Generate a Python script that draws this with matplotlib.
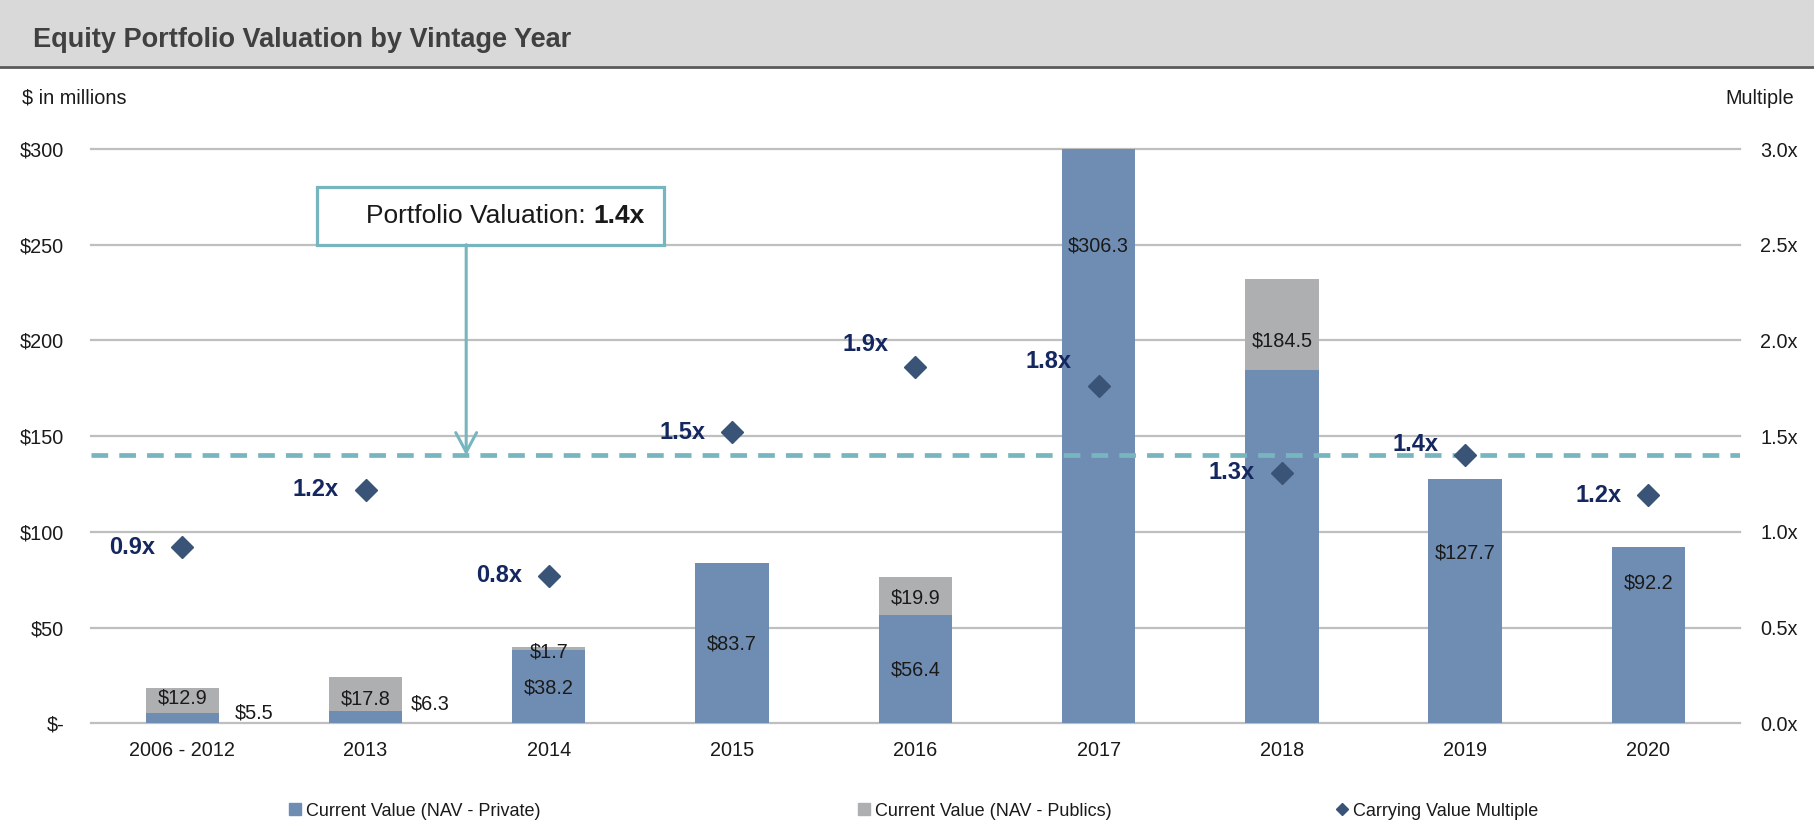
import numpy as np
import matplotlib
matplotlib.use('Agg')
import matplotlib.pyplot as plt
from matplotlib.patches import Rectangle
from matplotlib.lines import Line2D

plt.rcParams['font.family'] = ['Liberation Sans', 'DejaVu Sans']
plt.rcParams['lines.scale_dashes'] = False

# data
categories = ['2006 - 2012', '2013', '2014', '2015', '2016', '2017', '2018', '2019', '2020']
nav_private = [5.5, 6.3, 38.2, 83.7, 56.4, 306.3, 184.5, 127.7, 92.2]
nav_publics = [12.9, 17.8, 1.7, 0.0, 19.9, 0.0, 47.6, 0.0, 0.0]
multiple = [0.92, 1.22, 0.77, 1.52, 1.86, 1.76, 1.31, 1.40, 1.19]
portfolio_multiple = 1.4

# where the data labels sit (the original places them by hand)
priv_lbl_x = [0.39, 0.35, 0, 0, 0, 0, 0, 0, 0]
priv_lbl_y = [5.2, 10.1, 18.3, 41.5, 27.8, 249.1, 199.5, 88.9, 73.2]
pub_lbl_y = [13.4, 12.5, 37.4, None, 65.3, None, None, None, None]
mult_lbl_dy = [0, 0, 0, 0, 16.5, 18, 0, 8, 0]   # points above the diamond

blue = '#6F8DB3'
grey = '#AEAFB1'
navy = '#15275F'
diamond = '#3A5478'
teal = '#77B6BF'
gridc = '#BFBFBF'
txt = '#1A1A1A'
fs = 14.3

W, H = 1815, 823
fig = plt.figure(figsize=(W / 100, H / 100), dpi=100)

# title band
fig.patches.append(Rectangle((0, 1 - 66 / H), 1, 66 / H, transform=fig.transFigure,
                             facecolor='#D9D9D9', edgecolor='none', zorder=0))
fig.lines.append(Line2D([0, 1], [1 - 66.5 / H] * 2, transform=fig.transFigure,
                        color='#595959', lw=2))
fig.text(33 / W, 1 - 40 / H, 'Equity Portfolio Valuation by Vintage Year', fontsize=19.5,
         fontweight='bold', color='#404040', va='center', ha='left')
fig.text(22 / W, 1 - 98 / H, '$ in millions', fontsize=fs, color=txt, va='center', ha='left')
fig.text(1794 / W, 1 - 99 / H, 'Multiple', fontsize=fs, color=txt, va='center', ha='right')

left, right, top, bottom = 90.7, 1740, 149, 723.3
ax = fig.add_axes([left / W, 1 - bottom / H, (right - left) / W, (bottom - top) / H])
ax2 = ax.twinx()

x = np.arange(len(categories))
ax.set_xlim(-0.5, len(categories) - 0.5)
ax.set_ylim(0, 300)
ax2.set_ylim(0, 3)

yt = np.arange(0, 301, 50)
for v in yt:
    ax.axhline(v, color=gridc, lw=1.6, zorder=0.5, clip_on=False)

ax.bar(x, nav_private, width=0.4, color=blue, zorder=2)
ax.bar(x, nav_publics, width=0.4, bottom=nav_private, color=grey, zorder=2)

for i in range(len(categories)):
    ax.text(x[i] + priv_lbl_x[i], priv_lbl_y[i], '$%.1f' % nav_private[i], ha='center',
            va='center', fontsize=fs, color=txt, zorder=3)
    if pub_lbl_y[i] is not None:
        ax.text(x[i], pub_lbl_y[i], '$%.1f' % nav_publics[i], ha='center', va='center',
                fontsize=fs, color=txt, zorder=3)

ax.set_yticks(yt, ['$-'] + ['$%d' % v for v in yt[1:]])
ax.set_xticks(x, categories)
ax.tick_params(axis='y', length=0, pad=19, labelsize=fs, labelcolor=txt)
ax.tick_params(axis='x', length=0, pad=13, labelsize=fs, labelcolor=txt)

# multiple axis
ax2.axhline(portfolio_multiple, color=teal, lw=3.4, dashes=(12, 8), zorder=2)
ax2.plot(x, multiple, ls='none', marker='D', ms=11.5, color=diamond, zorder=3)
for i, m in enumerate(multiple):
    ax2.annotate('%.1fx' % m, (x[i], m), xytext=(-19.5, mult_lbl_dy[i]),
                 textcoords='offset points', ha='right', va='center', fontsize=17,
                 fontweight='bold', color=navy, zorder=4)
m_ticks = np.arange(0, 3.01, 0.5)
ax2.set_yticks(m_ticks, ['%.1fx' % v for v in m_ticks])
ax2.tick_params(axis='y', length=0, pad=14.5, labelsize=fs, labelcolor=txt)

for a in (ax, ax2):
    for s in a.spines.values():
        s.set_visible(False)

# callout box with arrow down to the portfolio line
bx0, bx1, by0, by1 = 0.7325, 2.627, 250, 280
ax2.add_patch(Rectangle((bx0, by0 / 100), bx1 - bx0, (by1 - by0) / 100, facecolor='white',
                        edgecolor=teal, lw=2.3, zorder=5, clip_on=False))
t1 = ax2.text(bx0 + 0.27, (by0 + by1) / 200, 'Portfolio Valuation: ', fontsize=19,
              color=txt, ha='left', va='center', zorder=6)
ax2.annotate('1.4x', xy=(1, 0.5), xycoords=t1, ha='left', va='center', fontsize=19,
             fontweight='bold', color=txt, zorder=6)
ax2.annotate('', xy=(1.549, portfolio_multiple), xytext=(1.549, by0 / 100),
             arrowprops=dict(arrowstyle='->,head_length=1.4,head_width=0.75', mutation_scale=10,
                             color=teal, lw=2.2, shrinkA=0, shrinkB=0), zorder=5)

# legend, three separate entries as in the original
ly = 1 - 811 / H
h1 = Line2D([], [], ls='none', marker='s', ms=8.6, color=blue)
h2 = Line2D([], [], ls='none', marker='s', ms=8.6, color=grey)
h3 = Line2D([], [], ls='none', marker='D', ms=6.6, color=diamond)
for h, lab, lx in [(h1, 'Current Value (NAV - Private)', 289),
                   (h2, 'Current Value (NAV - Publics)', 858),
                   (h3, 'Carrying Value Multiple', 1336)]:
    fig.legend(handles=[h], labels=[lab], loc='center left', bbox_to_anchor=(lx / W, ly),
               frameon=False, fontsize=13, handlelength=0.7, handletextpad=0.25,
               borderpad=0, borderaxespad=0, labelcolor=txt)

fig.savefig('out.png', dpi=100)
